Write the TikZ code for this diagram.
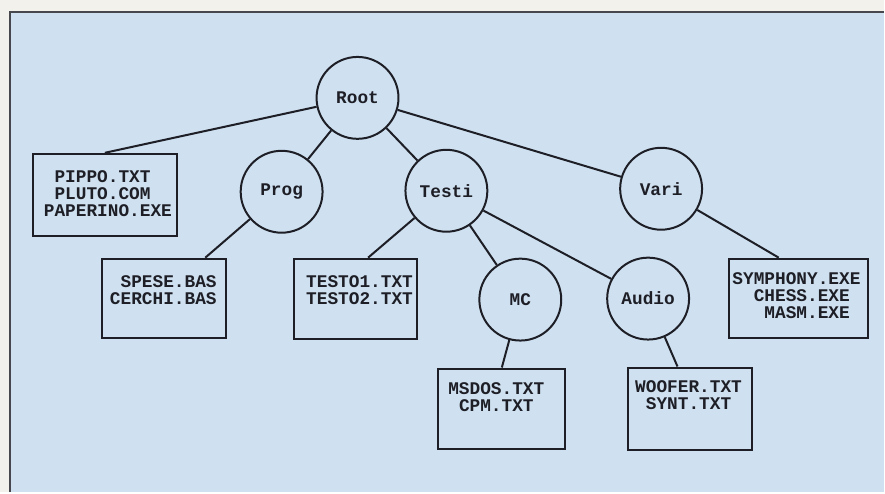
\documentclass[tikz,border=0pt]{standalone}
\usepackage{fontspec}
\usetikzlibrary{calc}
\newfontfamily\plotfont{Liberation Mono}
\definecolor{paper}{RGB}{243,241,236}
\definecolor{sky}{RGB}{207,225,240}
\definecolor{ink}{RGB}{30,30,38}
\definecolor{rule}{RGB}{70,72,78}

\begin{document}
\begin{tikzpicture}[x=0.5pt,y=-0.5pt,
  plot/.style={font=\plotfont\bfseries\fontsize{8.9}{8.5}\selectfont, text=ink},
  dirnode/.style={circle, draw=ink, line width=1pt, minimum size=41pt, inner sep=0pt, plot},
  filebox/.style={rectangle, draw=ink, line width=1pt, inner sep=0pt},
  filelist/.style={plot, inner sep=0pt},
  link/.style={draw=ink, line width=1pt}]

% page and panel
\fill[paper] (0,0) rectangle (885,493);
\fill[sky] (10,12) rectangle (885,493);
\draw[rule, line width=1.2pt] (10,493) -- (10,12) -- (885,12);
\useasboundingbox (0,0) rectangle (885,493);

% directories
\node[dirnode] (root)  at (358,98)  {Root};
\node[dirnode] (prog)  at (282,192) {Prog};
\node[dirnode] (testi) at (447,191) {Testi};
\node[dirnode] (vari)  at (662,189) {Vari};
\node[dirnode] (mc)    at (521,300) {MC};
\node[dirnode] (audio) at (649,299) {Audio};

% file boxes
\node[filebox, minimum width=72pt,   minimum height=41pt]   (pippo)  at (105,195)    {};
\node[filebox, minimum width=62pt,   minimum height=39.5pt] (spese)  at (164,298.5)  {};
\node[filebox, minimum width=62pt,   minimum height=40pt]   (testo)  at (356,299)    {};
\node[filebox, minimum width=63.5pt, minimum height=40.5pt] (msdos)  at (502.5,409.5) {};
\node[filebox, minimum width=62pt,   minimum height=41.5pt] (woofer) at (691,409.5)  {};
\node[filebox, minimum width=69.5pt, minimum height=39.5pt] (symph)  at (799.5,298.5) {};

% file names
\node[filelist, align=left]  (pippotxt)  at (108,194)   {\hphantom{P}PIPPO.TXT\\\hphantom{P}PLUTO.COM\\PAPERINO.EXE};
\node[filelist, align=right] (spesetxt)  at (163.5,291) {SPESE.BAS\\CERCHI.BAS};
\node[filelist, align=left]  (testotxt)  at (360,291)   {TESTO1.TXT\\TESTO2.TXT};
\node[filelist, align=left]  (msdostxt)  at (497,397.5) {MSDOS.TXT\\\hphantom{M}CPM.TXT};
\node[filelist, align=center] (woofertxt) at (689.5,396) {WOOFER.TXT\\SYNT.TXT};
\node[filelist, align=left]  (symphtxt)  at (797.5,296) {SYMPHONY.EXE\\\hphantom{SY}CHESS.EXE\\\hphantom{SYM}MASM.EXE};

% tree links
\draw[link] (root) -- (pippo.north);
\draw[link] (root) -- (prog);
\draw[link] (root) -- (testi);
\draw[link] (root) -- (vari);
\draw[link] (prog) -- ($(spese.north west)!0.83!(spese.north east)$);
\draw[link] (testi) -- ($(testo.north west)!0.6!(testo.north east)$);
\draw[link] (testi) -- (mc);
\draw[link] (testi) -- (audio);
\draw[link] (vari) -- ($(symph.north west)!0.36!(symph.north east)$);
\draw[link] (mc) -- (msdos.north);
\draw[link] (audio) -- ($(woofer.north west)!0.4!(woofer.north east)$);
\end{tikzpicture}
\end{document}
